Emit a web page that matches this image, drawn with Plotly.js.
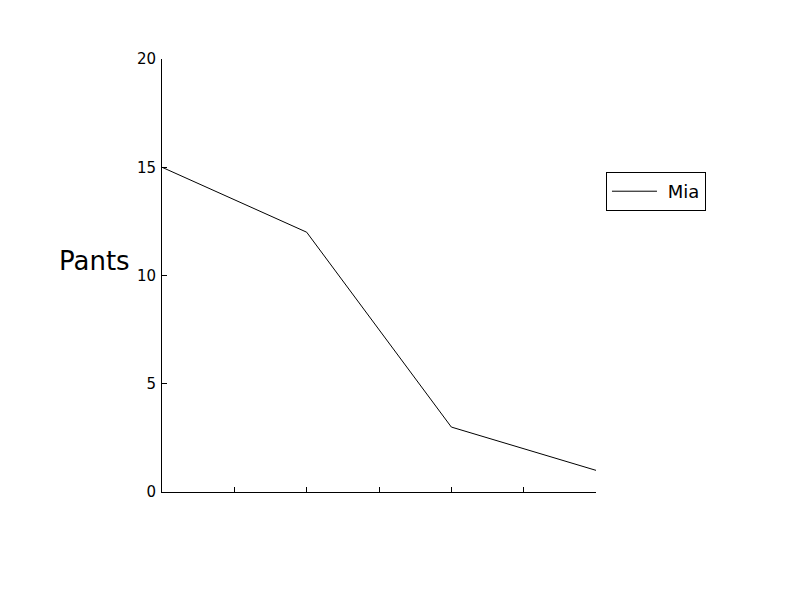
<!DOCTYPE html>
<html>
<head>
<meta charset="utf-8">
<script src="https://cdn.plot.ly/plotly-3.0.1.min.js"></script>
<style>html,body{margin:0;padding:0;background:#fff;}#chart{width:800px;height:600px;}</style>
</head>
<body>
<div id="chart"></div>
<script>
const xValues = [0, 1, 2, 3];
const miaValues = [15, 12, 3, 1];
const seriesName = "Mia";
const yLabel = "Pants";
const xTickVals = [0, 0.5, 1, 1.5, 2, 2.5, 3];
const yTickVals = [0, 5, 10, 15, 20];

const font = "DejaVu Sans, sans-serif";
Plotly.newPlot("chart", [{
  x: xValues, y: miaValues, name: "\u00a0" + seriesName, type: "scatter", mode: "lines",
  line: {color: "#000", width: 1}
}], {
  width: 800, height: 600,
  margin: {l: 162, r: 204, t: 59, b: 108},
  paper_bgcolor: "#fff", plot_bgcolor: "#fff",
  font: {family: font, size: 15, color: "#000"},
  showlegend: true,
  legend: {x: 1.023, y: 0.739, xanchor: "left", yanchor: "top", bordercolor: "#000", borderwidth: 1, bgcolor: "#fff", itemwidth: 45, font: {family: font, size: 18, color: "#000"}},
  xaxis: {range: [0, 3], tickvals: xTickVals, showticklabels: false, ticks: "inside", ticklen: 5, tickcolor: "#000", showline: true, linecolor: "#000", linewidth: 1, showgrid: false, zeroline: false, fixedrange: true},
  yaxis: {range: [0, 20], tickvals: yTickVals, ticks: "inside", ticklen: 5, tickcolor: "#000", showline: true, linecolor: "#000", linewidth: 1, showgrid: false, zeroline: false, ticklabelstandoff: 2, tickfont: {family: font, size: 15, color: "#000"}},
  annotations: [{text: yLabel, xref: "paper", yref: "paper", x: (94 - 162) / 434, y: (492 - 261) / 433, xanchor: "center", yanchor: "middle", showarrow: false, font: {family: font, size: 26, color: "#000"}}]
}, {displayModeBar: false, staticPlot: true});
</script>
</body>
</html>
